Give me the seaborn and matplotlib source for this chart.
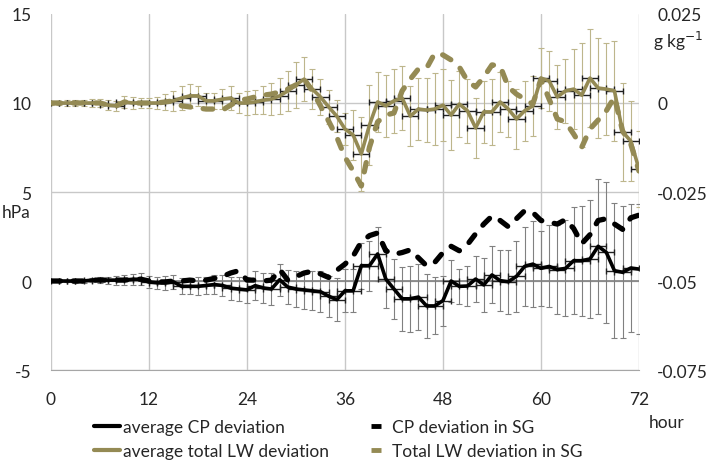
import numpy as np
import pandas as pd
import matplotlib
matplotlib.use("Agg")
import matplotlib.pyplot as plt
from matplotlib.lines import Line2D
import seaborn as sns

# hourly values, 0..72 h
hours = list(range(73))

# average CP deviation (hPa)
cp_avg = [0, 0, 0, 0, 0, 0.05, 0.05, 0.05, 0.05, 0.05,
          0.1, 0.1, -0.05, -0.1, -0.1, -0.05, -0.3, -0.3, -0.3, -0.25,
          -0.2, -0.25, -0.4, -0.45, -0.5, -0.26, -0.39, -0.45, 0.07, -0.34,
          -0.45, -0.5, -0.55, -0.6, -0.85, -1.05, -0.55, -0.55, 0.86, 0.86,
          1.52, 0.11, -0.45, -1.0, -1.0, -0.9, -1.4, -1.4, -1.1, 0.0,
          -0.3, -0.28, 0.11, -0.22, 0.34, 0.02, -0.04, 0.26, 0.82, 0.95,
          0.71, 0.82, 0.64, 0.71, 1.14, 1.14, 1.24, 1.95, 1.61, 0.58,
          0.49, 0.73, 0.67]
cp_err = [0.05, 0.05, 0.08, 0.1, 0.1, 0.12, 0.15, 0.2, 0.25, 0.3,
          0.3, 0.35, 0.35, 0.35, 0.4, 0.4, 0.45, 0.45, 0.5, 0.5,
          0.55, 0.6, 0.65, 0.7, 0.75, 0.8, 0.85, 0.9, 0.9, 0.95,
          1.0, 1.05, 1.1, 1.15, 1.15, 1.2, 1.2, 1.2, 1.3, 1.4,
          1.5, 1.6, 1.7, 1.8, 1.85, 1.85, 1.8, 1.6, 1.4, 1.2,
          1.0, 1.1, 1.3, 1.5, 1.6, 1.7, 1.8, 2.0, 2.2, 2.4,
          2.1, 2.3, 2.5, 2.7, 3.0, 3.1, 3.3, 3.8, 3.95, 3.8,
          3.7, 3.6, 3.65]
# CP deviation in SG (hPa)
cp_sg = [0, 0, 0, 0, 0, 0.05, 0.05, 0.05, 0.05, 0.05,
         0.1, 0.1, 0.0, -0.05, -0.05, 0.0, 0.0, 0.05, 0.0, 0.05,
         0.15, 0.25, 0.45, 0.58, 0.05, 0.05, 0.0, 0.05, 0.65, 0.05,
         0.25, 0.45, 0.55, 0.4, 0.2, 0.6, 0.95, 1.4, 2.2, 2.55,
         2.7, 1.7, 1.5, 1.6, 1.75, 1.3, 0.85, 1.05, 1.6, 1.95,
         1.7, 2.05, 2.65, 3.2, 3.65, 3.4, 3.05, 3.5, 3.95, 3.85,
         3.4, 3.3, 3.2, 3.45, 2.95, 2.1, 2.6, 3.4, 3.5, 3.2,
         2.9, 3.55, 3.7]

# average total LW deviation (g/kg)
lw_avg = [0, 0, 0, 0, 0, 0, 0, -0.0006, -0.0008, 0.0003,
          0, 0, 0, 0, 0.0003, 0.0006, 0.0014, 0.002, 0.002, 0.0006,
          0.0006, 0.0011, 0.0014, 0, 0, 0.0003, 0.0008, 0.0011, 0.002, 0.0034,
          0.0051, 0.0067, 0.0039, 0.0017, -0.0011, -0.0037, -0.0073, -0.009, -0.0143, -0.0062,
          0.0003, -0.0008, 0.0006, 0.0014, -0.0037, -0.0017, -0.002, -0.0017, -0.0006, -0.0034,
          -0.0003, -0.0022, -0.007, -0.0025, -0.0025, 0.0003, -0.0017, -0.0045, -0.0022, -0.0008,
          0.007, 0.0062, 0.0017, 0.0034, 0.0039, 0.0022, 0.007, 0.0042, 0.0039, 0.0034,
          -0.0081, -0.0107, -0.0185]
lw_err = [0.0006, 0.0006, 0.0008, 0.0008, 0.0008, 0.0011, 0.0011, 0.0014, 0.0014, 0.0017,
          0.0017, 0.0014, 0.0014, 0.0017, 0.0022, 0.0028, 0.0034, 0.0034, 0.0028, 0.0022,
          0.0022, 0.0028, 0.0034, 0.0028, 0.0034, 0.0034, 0.0039, 0.0045, 0.0051, 0.0056,
          0.0065, 0.0062, 0.0056, 0.0051, 0.0048, 0.0045, 0.0045, 0.007, 0.0104, 0.0112,
          0.0084, 0.0087, 0.009, 0.009, 0.0084, 0.0087, 0.009, 0.0101, 0.0101, 0.0098,
          0.0093, 0.009, 0.0084, 0.0087, 0.0093, 0.0084, 0.0079, 0.0084, 0.0084, 0.0084,
          0.0084, 0.0084, 0.009, 0.009, 0.0112, 0.0146, 0.0138, 0.014, 0.0129, 0.014,
          0.0138, 0.0112, 0.0107]
# Total LW deviation in SG (g/kg)
lw_sg = [0, 0, 0, 0, 0, 0, 0, -0.0006, -0.0008, 0.0003,
         0, 0, 0, 0, 0.0003, 0.0006, -0.0008, -0.0011, -0.0014, -0.0017,
         -0.0017, -0.002, -0.0006, 0.0008, 0.0011, 0.0017, 0.0022, 0.0025, 0.0031, 0.0039,
         0.0051, 0.0067, 0.0034, -0.0008, -0.0051, -0.0096, -0.0152, -0.0191, -0.0233, -0.0124,
         -0.0053, -0.0034, -0.0028, 0.0034, 0.0067, 0.0096, 0.0098, 0.014, 0.0135, 0.0121,
         0.0101, 0.0062, 0.0045, 0.0073, 0.0107, 0.0104, 0.0045, 0.0025, 0.0011, -0.0003,
         0.0067, 0.0011, -0.0045, -0.0053, -0.0087, -0.0124, -0.0073, -0.0048, -0.0022, 0.0017,
         -0.0079, -0.0115, -0.0191]

hour_err = 1  # horizontal error bars, +-1 h

labels = ["average CP deviation", "average total LW deviation",
          "CP deviation in SG", "Total LW deviation in SG"]

df = pd.DataFrame({"hour": hours, "cp_avg": cp_avg, "cp_sg": cp_sg,
                   "lw_avg": lw_avg, "lw_sg": lw_sg})

sns.set_style("white")
plt.rcParams["font.family"] = ["Lato", "DejaVu Sans"]
plt.rcParams["axes.unicode_minus"] = False

olive = "#948A54"
fs = 12.5

fig = plt.figure(figsize=(7.16, 4.64), dpi=100)
ax = fig.add_axes([0.0712, 0.2004, 0.8212, 0.7673])
ax2 = ax.twinx()

# CP (left axis)
ax.errorbar(hours, cp_avg, yerr=cp_err, fmt="none", ecolor="#808080",
            elinewidth=0.8, capsize=2.5, capthick=0.8, zorder=2)
ax.errorbar(hours, cp_avg, xerr=hour_err, fmt="none", ecolor="#202020",
            elinewidth=1, capsize=2.5, capthick=1, zorder=2)
sns.lineplot(data=df, x="hour", y="cp_sg", ax=ax, color="black", lw=3.8, zorder=3)
ax.lines[-1].set_dashes((1.8, 2.4))
ax.lines[-1].set_dash_capstyle("round")
sns.lineplot(data=df, x="hour", y="cp_avg", ax=ax, color="black", lw=2.6, zorder=4)

# LW (right axis)
ax2.errorbar(hours, lw_avg, yerr=lw_err, fmt="none", ecolor="#BDB68C",
             elinewidth=0.8, capsize=2.5, capthick=0.8, zorder=2)
ax2.errorbar(hours, lw_avg, xerr=hour_err, fmt="none", ecolor="#202020",
             elinewidth=1, capsize=2.5, capthick=1, zorder=2)
sns.lineplot(data=df, x="hour", y="lw_sg", ax=ax2, color=olive, lw=3.8, zorder=3)
ax2.lines[-1].set_dashes((1.8, 2.4))
ax2.lines[-1].set_dash_capstyle("round")
sns.lineplot(data=df, x="hour", y="lw_avg", ax=ax2, color=olive, lw=2.6, zorder=4)

ax.set_xlim(0, 72)
ax.set_ylim(-5, 15)
ax2.set_ylim(-0.075, 0.025)
ax.set_xticks(range(0, 73, 12))
ax.set_yticks([-5, 0, 5, 10, 15])
ax2.set_yticks([-0.075, -0.05, -0.025, 0, 0.025])
ax2.set_yticklabels(["-0.075", "-0.05", "-0.025", "0", "0.025"])

for a in (ax, ax2):
    a.set_xlabel("")
    a.set_ylabel("")
    for s in a.spines.values():
        s.set_visible(False)
ax.spines["bottom"].set_visible(True)
ax.spines["bottom"].set_color("#A6A6A6")

ax.grid(True, color="#C8C8C8", lw=1)
ax.yaxis.get_gridlines()[-1].set_visible(False)
ax2.grid(False)
ax.axhline(0, color="#7F7F7F", lw=1.2, zorder=1.5)

ax.tick_params(axis="x", length=0, pad=15, labelsize=fs)
ax.tick_params(axis="y", length=0, pad=14, labelsize=fs)
ax2.tick_params(axis="y", length=0, pad=13, labelsize=fs)

fig.text(2 / 716, 1 - 213 / 464, "hPa", fontsize=fs, va="center", ha="left")
fig.text(678 / 716, 1 - 41 / 464, "g kg$^{-1}$", fontsize=fs, va="center", ha="center")
fig.text(667 / 716, 1 - 423 / 464, "hour", fontsize=fs, va="center", ha="center")

handles = [Line2D([], [], color="black", lw=3),
           Line2D([], [], color=olive, lw=3),
           Line2D([], [], color="black", marker="_", ms=7, mew=3.5, ls="none"),
           Line2D([], [], color=olive, marker="_", ms=7, mew=3.5, ls="none")]
fig.legend(handles, labels, ncol=2, loc="upper left",
           bbox_to_anchor=(94 / 716, 1 - 420 / 464), frameon=False,
           fontsize=fs, handlelength=1.5, handletextpad=0.15,
           columnspacing=2.0, labelspacing=0.45, borderaxespad=0, borderpad=0)

fig.savefig("out.png", dpi=100)
